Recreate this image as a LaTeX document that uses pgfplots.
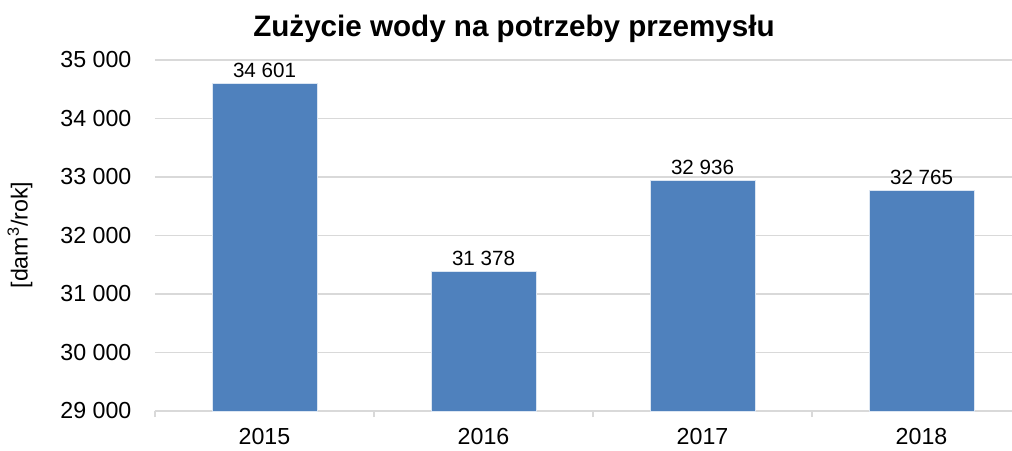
\documentclass[border=0pt]{standalone}
\usepackage{pgfplots}
\pgfplotsset{compat=1.18}
\usepackage{fontspec}
\setmainfont{Liberation Sans}
\definecolor{barblue}{HTML}{4F81BD}
\definecolor{gridgray}{HTML}{D9D9D9}
\begin{document}
\begin{tikzpicture}
\path[use as bounding box] (-77.5pt,-19.5pt) rectangle (428.5pt,205.5pt);
\begin{axis}[
  scale only axis,
  width=428.5pt, height=175.5pt,
  xmin=-0.5, xmax=3.413,
  ymin=29000, ymax=35000,
  ytick={29000,30000,31000,32000,33000,34000,35000},
  scaled y ticks=false,
  xtick={0,1,2,3},
  xticklabels={2015,2016,2017,2018},
  minor xtick={-0.5,0.5,1.5,2.5},
  major x tick style={draw=none},
  minor tick length=3pt,
  tick align=outside,
  minor x tick style={draw=gridgray, line width=0.8pt},
  ytick style={draw=none},
  axis x line*=bottom,
  axis y line*=left,
  y axis line style={draw=none},
  x axis line style={draw=gridgray, line width=0.8pt, -},
  ymajorgrids,
  grid style={draw=gridgray, line width=0.8pt},
  /pgf/number format/assume math mode=true,
  /pgf/number format/1000 sep={\ },
  tick label style={font=\fontsize{11.6}{14}\selectfont},
  yticklabel style={xshift=-4pt},
  xticklabel style={yshift=-1pt},
  ybar,
  bar width=52.5pt,
  nodes near coords,
  nodes near coords style={font=\fontsize{10.3}{12}\selectfont, /pgf/number format/1000 sep={\ }, yshift=-0.5pt},
]
\addplot[fill=barblue, draw=white!80!barblue, line width=0.4pt] coordinates {(0,34601) (1,31378) (2,32936) (3,32765)};
\end{axis}
\node[font=\bfseries\fontsize{14.8}{17}\selectfont] at (179.5pt,191pt) {Zużycie wody na potrzeby przemysłu};
\node[rotate=90, font=\fontsize{11.6}{14}\selectfont] at (-67.5pt,88pt) {[dam\textsuperscript{3}/rok]};
\end{tikzpicture}
\end{document}
